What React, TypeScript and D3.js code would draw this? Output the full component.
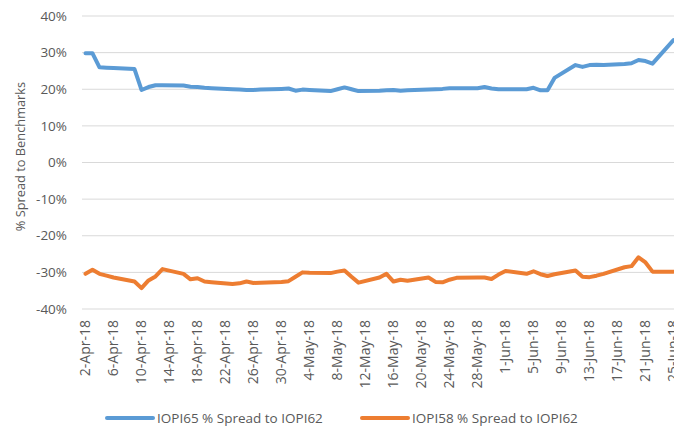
import React from "react";
import * as d3 from "d3";

const dates: string[] = [
  "2018-04-02","2018-04-03","2018-04-04","2018-04-05","2018-04-06",
  "2018-04-09","2018-04-10","2018-04-11","2018-04-12","2018-04-13",
  "2018-04-16","2018-04-17","2018-04-18","2018-04-19","2018-04-20",
  "2018-04-23","2018-04-24","2018-04-25","2018-04-26","2018-04-27",
  "2018-04-30","2018-05-01","2018-05-02","2018-05-03","2018-05-04",
  "2018-05-07","2018-05-08","2018-05-09","2018-05-10","2018-05-11",
  "2018-05-14","2018-05-15","2018-05-16","2018-05-17","2018-05-18",
  "2018-05-21","2018-05-22","2018-05-23","2018-05-24","2018-05-25",
  "2018-05-28","2018-05-29","2018-05-30","2018-05-31","2018-06-01",
  "2018-06-04","2018-06-05","2018-06-06","2018-06-07","2018-06-08",
  "2018-06-11","2018-06-12","2018-06-13","2018-06-14","2018-06-15",
  "2018-06-18","2018-06-19","2018-06-20","2018-06-21","2018-06-22",
  "2018-06-25",
];

const iopi65: number[] = [
  29.8, 29.8, 26.0, 25.9, 25.8,
  25.5, 19.8, 20.6, 21.1, 21.1,
  21.0, 20.7, 20.6, 20.4, 20.3,
  20.0, 19.9, 19.8, 19.8, 19.9,
  20.1, 20.2, 19.6, 19.9, 19.8,
  19.5, 20.0, 20.5, 20.0, 19.5,
  19.6, 19.7, 19.8, 19.6, 19.7,
  19.9, 20.0, 20.1, 20.3, 20.3,
  20.3, 20.6, 20.2, 20.0, 20.0,
  20.0, 20.4, 19.7, 19.7, 23.1,
  26.6, 26.1, 26.6, 26.7, 26.6,
  26.9, 27.1, 28.0, 27.7, 27.0,
  33.4,
];

const iopi58: number[] = [
  -30.4, -29.3, -30.4, -30.9, -31.4,
  -32.5, -34.3, -32.2, -31.1, -29.1,
  -30.4, -31.9, -31.6, -32.5, -32.7,
  -33.2, -33.0, -32.5, -32.9, -32.8,
  -32.6, -32.4, -31.2, -30.0, -30.1,
  -30.2, -29.8, -29.5, -31.2, -32.8,
  -31.4, -30.4, -32.5, -32.0, -32.3,
  -31.4, -32.6, -32.7, -32.0, -31.5,
  -31.4, -31.4, -31.8, -30.6, -29.6,
  -30.4, -29.7, -30.5, -31.0, -30.5,
  -29.5, -31.2, -31.3, -30.9, -30.4,
  -28.6, -28.3, -25.9, -27.3, -29.8,
  -29.8,
];

const yTicks: number[] = [40, 30, 20, 10, 0, -10, -20, -30, -40];
const seriesNames: string[] = ["IOPI65 % Spread to IOPI62", "IOPI58 % Spread to IOPI62"];
const seriesColors: string[] = ["#5B9BD5", "#ED7D31"];
const yTitle = "% Spread to Benchmarks";

const parse = d3.timeParse("%Y-%m-%d");
const fmt = d3.timeFormat("%-d-%b-%y");

export default function App() {
  const W = 674, H = 427;
  const left = 82, right = 677, top = 16, bottom = 309;
  const start = parse(dates[0])!;
  const end = parse(dates[dates.length - 1])!;
  const x = d3.scaleTime()
    .domain([d3.timeHour.offset(start, -12), d3.timeHour.offset(end, 12)])
    .range([left, right]);
  const y = d3.scaleLinear().domain([-40, 40]).range([bottom, top]);
  const xTicks: Date[] = [];
  for (let d = start; d <= end; d = d3.timeDay.offset(d, 4)) xTicks.push(d);
  const parsed = dates.map((s) => parse(s)!);
  const line = d3.line<number>()
    .x((_, i) => x(parsed[i]))
    .y((v) => y(v));
  const font = "'Open Sans', sans-serif";
  const textColor = "#595959";
  const series = [iopi65, iopi58];

  return (
    <svg width={W} height={H} style={{ position: "absolute", left: 0, top: 0, background: "#fff" }} fontFamily={font}>
      {yTicks.map((t) => (
        <g key={t}>
          <line x1={left} x2={W} y1={y(t)} y2={y(t)} stroke="#D9D9D9" strokeWidth={1} />
          <text x={67} y={y(t)} dy="0.35em" textAnchor="end" fontSize={13.5} fill={textColor}>
            {t}%
          </text>
        </g>
      ))}
      <text
        transform={`translate(21,${(top + bottom) / 2 - 6}) rotate(-90)`}
        textAnchor="middle"
        dy="0.35em"
        fontSize={12.8}
        fill={textColor}
      >
        {yTitle}
      </text>
      {xTicks.map((d) => (
        <text
          key={+d}
          transform={`translate(${x(d)},320) rotate(-90)`}
          textAnchor="end"
          dy="0.35em"
          fontSize={14}
          fill={textColor}
        >
          {fmt(d)}
        </text>
      ))}
      {series.map((s, i) => (
        <path
          key={i}
          d={line(s) || ""}
          fill="none"
          stroke={seriesColors[i]}
          strokeWidth={4}
          strokeLinejoin="round"
          strokeLinecap="round"
        />
      ))}
      {seriesNames.map((n, i) => {
        const lx = i === 0 ? 107 : 362;
        return (
          <g key={n}>
            <line x1={lx} x2={lx + 46} y1={418} y2={418} stroke={seriesColors[i]} strokeWidth={4} strokeLinecap="round" />
            <text x={lx + 50} y={418} dy="0.35em" fontSize={13.5} fill={textColor}>
              {n}
            </text>
          </g>
        );
      })}
    </svg>
  );
}
